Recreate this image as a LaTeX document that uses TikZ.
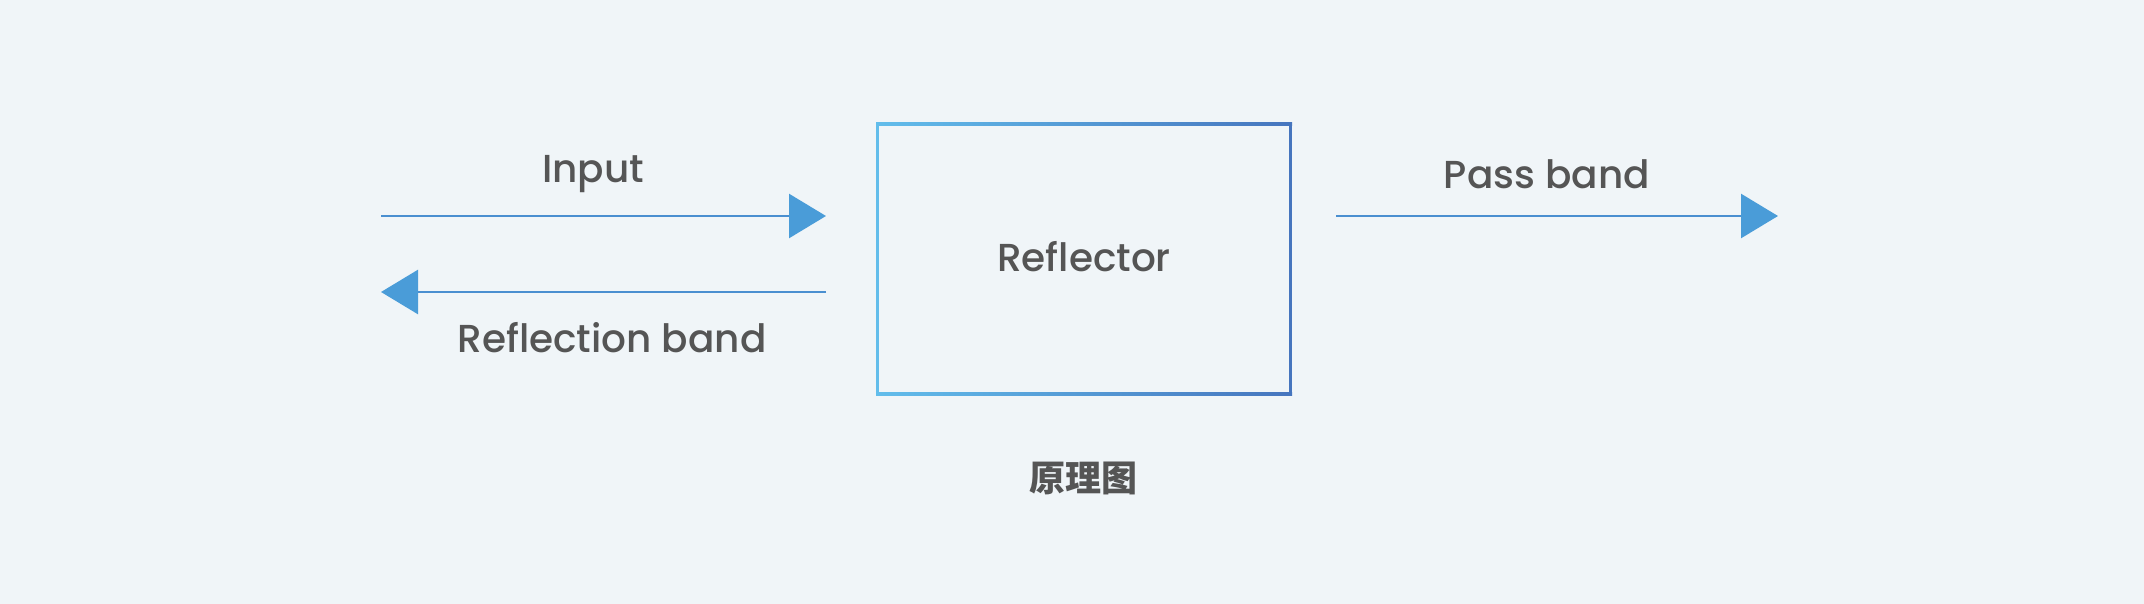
\documentclass[tikz,border=0pt]{standalone}
\usepackage{fontspec}
\setmainfont{Poppins}[UprightFont=* Medium]
\newfontfamily\cjkfont{Noto Sans CJK SC}
\usetikzlibrary{arrows.meta}
\definecolor{bgc}{HTML}{F0F5F8}
\definecolor{txtc}{HTML}{555555}
\definecolor{arrc}{HTML}{4A8FD0}
\definecolor{headc}{HTML}{4A9CD8}
\definecolor{boxl}{HTML}{62BDEB}
\definecolor{boxr}{HTML}{4675BE}
\tikzset{
  lbl/.style={text=txtc, font=\fontsize{39}{46}\selectfont, inner sep=0pt, anchor=center},
  sig/.style={draw=arrc, line width=2.6pt, -{Triangle[length=37pt,width=44pt,color=headc]}},
}
\begin{document}
\begin{tikzpicture}[x=1pt,y=-1pt]
\fill[bgc] (0,0) rectangle (2144,604);
\useasboundingbox (0,0) rectangle (2144,604);
% box
\shade[left color=boxl, right color=boxr] (876,123) rectangle (1292,126);
\shade[left color=boxl, right color=boxr] (876,392) rectangle (1292,395);
\fill[boxl] (876,123) rectangle (879,395);
\fill[boxr] (1289,123) rectangle (1292,395);
\node[lbl] (refl) at (1084,257) {Reflector};
% arrows
\coordinate (inS) at (381,216);
\coordinate (inE) at (826,216);
\coordinate (rfS) at (826,292);
\coordinate (rfE) at (381,292);
\coordinate (psS) at (1336,216);
\coordinate (psE) at (1778,216);
\draw[sig] (inS) -- (inE);
\draw[sig] (rfS) -- (rfE);
\draw[sig] (psS) -- (psE);
\node[lbl] (inl) at (593,174) {Input};
\node[lbl] (rfl) at (612,338) {Reflection band};
\node[lbl] (psl) at (1547,174) {Pass band};
\node[text=txtc, inner sep=0pt, font=\cjkfont\bfseries\fontsize{36}{42}\selectfont] (cap) at (1083,478) {原理图};
\end{tikzpicture}
\end{document}
